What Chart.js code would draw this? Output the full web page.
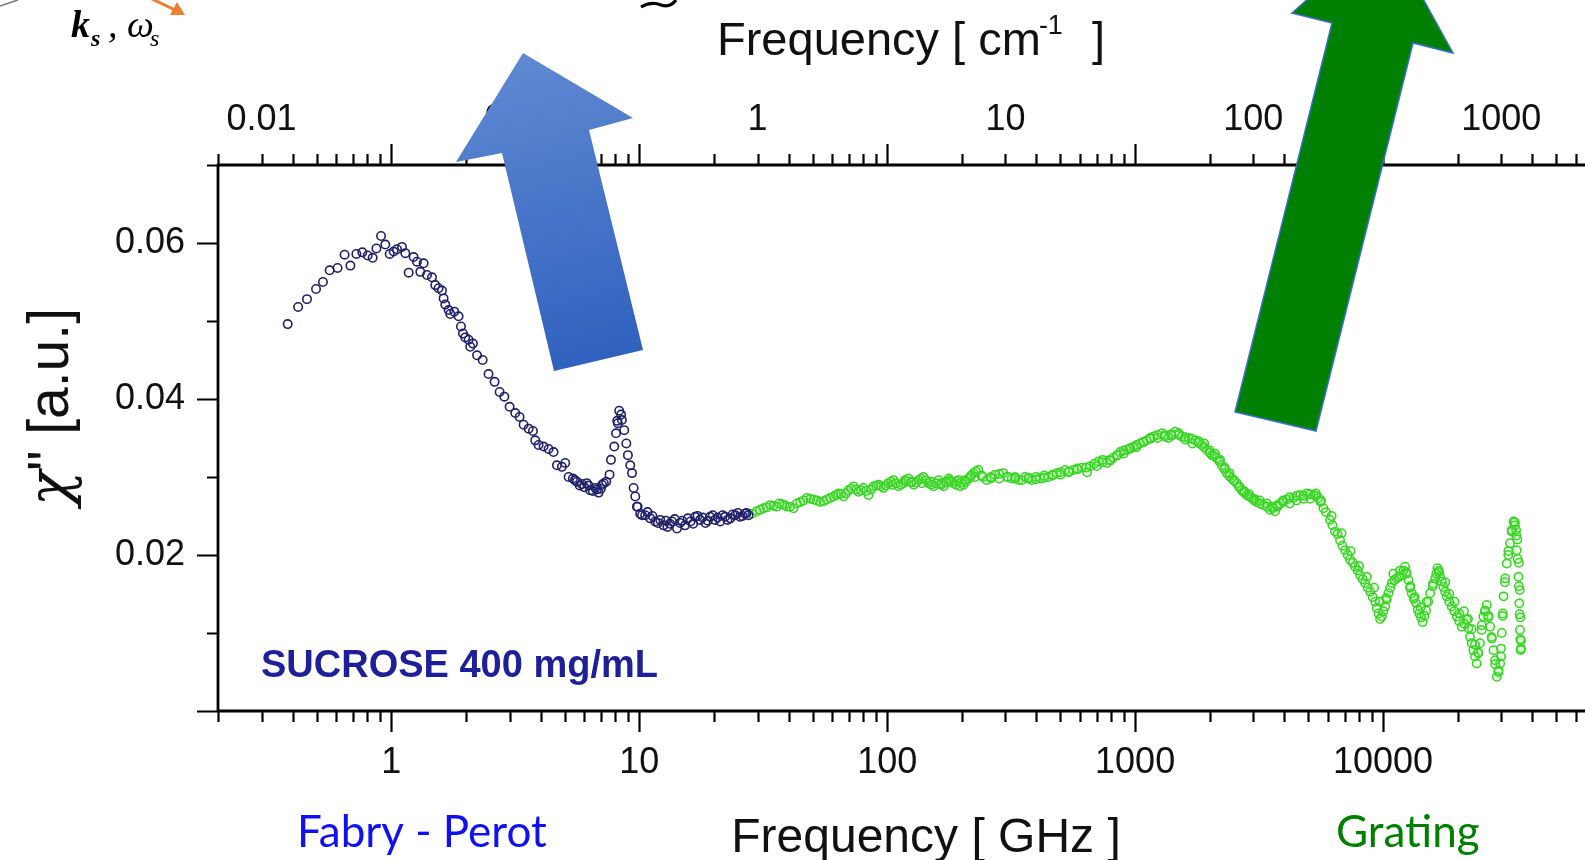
<!DOCTYPE html>
<html><head><meta charset="utf-8">
<script src="https://cdn.jsdelivr.net/npm/chart.js@4.4.0/dist/chart.umd.min.js"></script>
<style>
html,body{margin:0;padding:0;background:#fff;overflow:hidden;width:1585px;height:860px;}
#wrap{position:absolute;left:0;top:0;width:1700px;height:860px;}
canvas{display:block;}
</style></head><body>
<div id="wrap"><canvas id="c" width="1700" height="860"></canvas></div>
<script>
// ---- Fabry-Perot data (frequency in GHz, chi'' in a.u.) ----
const FP_FREQ_GHZ = [0.382,0.421,0.457,0.497,0.530,0.564,0.607,0.648,0.684,0.723,
 0.764,0.803,0.841,0.871,0.909,0.946,0.985,1.022,1.054,1.104,
 1.139,1.175,1.230,1.269,1.309,1.350,1.393,1.459,1.504,1.551,
 1.601,1.625,1.651,1.703,1.729,1.795,1.868,1.910,1.946,1.987,
 2.050,2.082,2.134,2.217,2.335,2.467,2.610,2.734,2.857,3.000,
 3.162,3.291,3.417,3.580,3.727,3.807,3.926,4.113,4.308,4.512,
 4.656,4.875,5.03,5.19,5.40,5.61,5.87,6.15,6.34,6.65,
 6.86,7.08,7.36,7.59,7.69,7.93,8.06,8.20,8.30,8.51,
 8.70,8.87,9.00,9.20,9.35,9.49,9.64,9.85,10.26,
 9.79,10.09,10.57,11.07,11.60,12.15,12.53,13.0,13.55,14.2,14.6,15.3,16.1,16.8,17.6,18.5,19.3,20.2,21.2,22.2,23.3,24.4,25.5,26.7,27.6,
 10.8,11.3,11.9,12.8,13.3,13.9,14.9,15.7,16.5,17.2,18.0,18.9,19.8,20.7,21.7,22.7,23.8,25.0,26.1,27.1,
 8.15,8.45,5.5,5.75,6.0,6.25,6.5,6.75,7.0,7.2];
const FP_CHI = [0.0496,0.0518,0.0528,0.0541,0.0550,0.0565,0.0568,0.0585,0.0571,0.0586,
 0.0588,0.0584,0.0581,0.0593,0.0609,0.0598,0.0586,0.0589,0.0592,0.0595,
 0.0587,0.0562,0.0582,0.0576,0.0563,0.0574,0.0559,0.0556,0.0546,0.0542,
 0.0539,0.0529,0.0521,0.0514,0.0509,0.0512,0.0506,0.0493,0.0484,0.0479,
 0.0476,0.0467,0.0471,0.0456,0.0450,0.0432,0.0422,0.0409,0.0403,0.0390,
 0.0382,0.0377,0.0367,0.0362,0.0359,0.0347,0.0341,0.0339,0.0336,0.0332,
 0.0315,0.0313,0.0318,0.0300,0.0298,0.0294,0.0291,0.0292,0.0283,0.0286,
 0.0280,0.0290,0.0294,0.0303,0.0322,0.0339,0.0356,0.0369,0.0385,0.0373,
 0.0360,0.0343,0.0328,0.0315,0.0305,0.0286,0.0275,0.0262,0.0251,
 0.0262,0.0253,0.0251,0.0247,0.0243,0.0245,0.0238,0.0236,0.0243,0.0234,0.0241,0.0238,0.0243,0.0249,0.0245,0.0241,0.0249,0.0245,0.0243,0.0249,0.0247,0.0251,0.0249,0.0253,0.0251,
 0.0255,0.0250,0.0241,0.0244,0.0240,0.0246,0.0244,0.0247,0.0240,0.0250,0.0248,0.0244,0.0251,0.0248,0.0251,0.0245,0.0252,0.0254,0.0250,0.0254,
 0.0372,0.0380,0.0296,0.0289,0.0287,0.0289,0.0282,0.0284,0.0285,0.0292];

// ---- Grating data (frequency in GHz, chi'' in a.u.) ----
const GR_FREQ_GHZ = [28.5,29.8,31.7,33.7,35.9,37.6,39.4,41.9,44.6,47.4,
 50.5,53.7,57.1,60.8,63.6,66.7,69.8,73.2,76.6,80.3,
 84.1,88.1,92.3,96.6,101,106,111,116,122,128,
 134,140,147,154,161,169,177,185,194,203,
 213,223,233,
 179,197,216,252,272,294,318,339,360,383,
 414,447,483,522,564,610,659,712,769,818,
 871,927,985,1047,1114,1185,1282,1362,1449,1542,
 1641,1745,1857,1945,2038,2135,2236,2342,2453,2569,
 2691,2818,2952,3092,3290,3500,3669,3843,4089,4350,
 4628,4925,5240,
 5488,5748,6111,6402,6708,7027,7362,7712,8080,8465,
 8868,9290,9580,9880,10190,10510,10840,11350,11890,12270,
 12650,13050,13590,14010,14450,14900,15480,16220,16570,16990,
 17510,18060,18920,19820,20760,21750,22420,23120,23860,24600,
 25380,26190,27040,27880,28770,29660,30120,30610,31550,32520,
 33580,34390,34590,35160,35450,35650,35880,
 6200,6800,7400,8000,8600,9200,9700,10300,11000,11700,
 12400,12900,13400,14200,15000,15900,16800,17800,18500,19400,
 20300,21200,22000,22800,23500,24200,25000,25800,26600,27400,
 28300,29200,29900,30400,31000,32000,33000,34000,34800,35300,
 35600,35800,36000,
 1900,2000,2100,2200,2300,2400,2500,2630,2750,2880,
 3020,3180,3400,3580,3750,3950,4200,4480,4780,5080,5360,5600,
 640,700,740,790,850,900,950,1010,1080,1150,
 1230,1320,1400,1500,1590,1700,1800,
 105,118,125,138,150,165,173,190,206,226,
 243,262,283,306,328,350,372,398,430,465,500,540,585,
 30.7,32.7,34.8,36.7,38.5,40.6,43.2,46.0,49.0,52.1,
 55.4,58.9,62.2,65.1,68.2,71.5,74.9,78.4,82.2,86.1,
 90.2,94.4,98.8,103.5,108.5,113.5,119,125,131,137,
 143.5,150.5,157.5,165,173,181,189.5,198.5,208,218,
 228,240,262,283,306,328,372,398,430,465,
 500,540,585,635,685,740,795,845,900,955,
 1015,1080,1150,1230,1320,1400,1500,1590,1690,1800,
 1900,2000,2085,2190,2290,2400,2510,2630,2750,2880,
 3020,3180,3400,3580,3750,3950,4200,4480,4780,5080,
 5360,5620,5880,6250,6550,6860,7200,7550,7900,8270,
 8670,9080,9430,9730,10030,10350,10680,11100,11600,12080,
 12450,12850,13300,13800,14230,14680,15200,15850,16400,16780,
 17250,17800,18480,19370,20280,21250,22080,22770,23490,24230,
 24990,25780,26610,27460,28320,29210,29890,30360,31080,32030,
 33050,34000,34480,34870,35300,35550,35760,35980];
const GR_CHI = [0.0253,0.0256,0.0260,0.0264,0.0262,0.0265,0.0262,0.0260,0.0268,0.0273,
 0.0271,0.0268,0.0271,0.0275,0.0279,0.0275,0.0283,0.0288,0.0281,0.0286,
 0.0277,0.0288,0.0290,0.0286,0.0292,0.0296,0.0288,0.0292,0.0298,0.0290,
 0.0296,0.0300,0.0292,0.0288,0.0296,0.0288,0.0298,0.0292,0.0296,0.0290,
 0.0298,0.0305,0.0309,
 0.0296,0.0288,0.0300,0.0296,0.0303,0.0305,0.0298,0.0296,0.0300,0.0296,
 0.0298,0.0300,0.0305,0.0309,0.0309,0.0312,0.0314,0.0320,0.0318,0.0325,
 0.0332,0.0335,0.0339,0.0343,0.0347,0.0352,0.0356,0.0350,0.0358,0.0352,
 0.0350,0.0347,0.0341,0.0335,0.0328,0.0324,0.0315,0.0305,0.0298,0.0292,
 0.0283,0.0277,0.0273,0.0268,0.0264,0.0258,0.0256,0.0266,0.0271,0.0273,
 0.0277,0.0279,0.0277,
 0.0273,0.0260,0.0245,0.0230,0.0219,0.0206,0.0194,0.0185,0.0174,0.0164,
 0.0153,0.0140,0.0125,0.0121,0.0134,0.0151,0.0164,0.0170,0.0174,0.0185,
 0.0168,0.0151,0.0138,0.0125,0.0114,0.0129,0.0151,0.0170,0.0183,0.0172,
 0.0159,0.0147,0.0134,0.0121,0.0108,0.0117,0.0095,0.0078,0.0061,0.0087,
 0.0121,0.0136,0.0108,0.0078,0.0044,0.0061,0.0100,0.0147,0.0189,0.0215,
 0.0243,0.0232,0.0206,0.0172,0.0138,0.0104,0.0078,
 0.0250,0.0228,0.0205,0.0186,0.0172,0.0158,0.0140,0.0145,0.0176,0.0180,
 0.0178,0.0160,0.0146,0.0133,0.0140,0.0163,0.0178,0.0165,0.0150,0.0140,
 0.0125,0.0128,0.0118,0.0105,0.0085,0.0075,0.0110,0.0128,0.0120,0.0095,
 0.0065,0.0052,0.0080,0.0125,0.0165,0.0200,0.0230,0.0238,0.0220,0.0190,
 0.0155,0.0120,0.0090,
 0.0343,0.0334,0.0330,0.0322,0.0312,0.0305,0.0296,0.0288,0.0282,0.0278,
 0.0272,0.0270,0.0266,0.0262,0.0262,0.0268,0.0266,0.0270,0.0272,0.0272,0.0279,0.0268,
 0.0306,0.0314,0.0322,0.0322,0.0328,0.0330,0.0336,0.0338,0.0345,0.0350,
 0.0350,0.0354,0.0353,0.0356,0.0348,0.0343,0.0346,
 0.0290,0.0296,0.0294,0.0292,0.0294,0.0292,0.0294,0.0294,0.0296,0.0300,
 0.0300,0.0298,0.0298,0.0300,0.0300,0.0296,0.0299,0.0300,0.0302,0.0303,0.0306,0.0306,0.0311,
 0.0258,0.0261,0.0263,0.0266,0.0264,0.0262,0.0266,0.0270,0.0272,0.0270,
 0.0269,0.0273,0.0277,0.0278,0.0279,0.0285,0.0284,0.0283,0.0282,0.0284,
 0.0289,0.0288,0.0289,0.0294,0.0292,0.0290,0.0295,0.0293,0.0293,0.0298,
 0.0296,0.0290,0.0292,0.0290,0.0293,0.0294,0.0290,0.0293,0.0294,0.0302,
 0.0307,0.0302,0.0300,0.0304,0.0300,0.0298,0.0298,0.0297,0.0299,0.0302,
 0.0303,0.0307,0.0310,0.0312,0.0317,0.0319,0.0321,0.0328,0.0334,0.0337,
 0.0341,0.0345,0.0349,0.0354,0.0352,0.0355,0.0354,0.0351,0.0349,0.0344,
 0.0338,0.0331,0.0327,0.0320,0.0310,0.0301,0.0295,0.0287,0.0280,0.0275,
 0.0270,0.0266,0.0262,0.0260,0.0264,0.0270,0.0274,0.0276,0.0276,0.0278,
 0.0276,0.0270,0.0255,0.0238,0.0227,0.0212,0.0200,0.0190,0.0180,0.0169,
 0.0158,0.0146,0.0132,0.0118,0.0128,0.0143,0.0158,0.0168,0.0172,0.0180,
 0.0176,0.0158,0.0144,0.0130,0.0120,0.0122,0.0140,0.0160,0.0176,0.0180,
 0.0166,0.0153,0.0140,0.0128,0.0115,0.0112,0.0106,0.0087,0.0070,0.0074,
 0.0104,0.0129,0.0122,0.0093,0.0060,0.0050,0.0070,0.0122,0.0170,0.0205,
 0.0232,0.0242,0.0225,0.0195,0.0160,0.0124,0.0092,0.0080];

// ---- axes ----
const GHZ_MIN = 0.2, GHZ_MAX = 100000;
const GHZ_TICKS = [1, 10, 100, 1000, 10000];
const GHZ_TICK_LABELS = ['1', '10', '100', '1000', '10000'];
const CM_TICKS = [0.01, 0.1, 1, 10, 100, 1000];
const CM_TICK_LABELS = ['0.01', '0.1', '1', '10', '100', '1000'];
const GHZ_PER_CM = 29.9792458;
const Y_MIN = 0, Y_MAX = 0.07;
const Y_TICKS = [0.02, 0.04, 0.06];
const Y_TICK_LABELS = ['0.02', '0.04', '0.06'];
const Y_MINOR = [0.00, 0.01, 0.02, 0.03, 0.04, 0.05, 0.06, 0.07];

const SANS = '"Liberation Sans", Arial, Helvetica, sans-serif';
const SERIF = '"Liberation Serif", "DejaVu Serif", serif';
const tickFont = {family: SANS, size: 36};

const decor = {
  id: 'decor',
  afterDraw(chart) {
    const ctx = chart.ctx;
    const {left, right, top, bottom} = chart.chartArea;
    const xs = chart.scales.x, ys = chart.scales.y;
    ctx.save();
    // axis lines
    ctx.strokeStyle = '#000';
    ctx.lineWidth = 2.8;
    ctx.beginPath();
    ctx.moveTo(left - 1, top); ctx.lineTo(right, top);
    ctx.moveTo(left - 1, bottom); ctx.lineTo(right, bottom);
    ctx.moveTo(left, top - 1); ctx.lineTo(left, bottom + 1);
    ctx.stroke();
    // log ticks on bottom and top (GHz decades)
    ctx.lineWidth = 2.2;
    ctx.beginPath();
    for (let e = -1; e <= 5; e++) {
      for (let k = 1; k <= 9; k++) {
        const v = k * Math.pow(10, e);
        if (v < GHZ_MIN * 0.999 || v > GHZ_MAX * 1.001) continue;
        const px = Math.round(xs.getPixelForValue(v)) + 0.5;
        const len = k === 1 ? 21 : 11;
        ctx.moveTo(px, bottom); ctx.lineTo(px, bottom + len);
        ctx.moveTo(px, top); ctx.lineTo(px, top - len);
      }
    }
    // y ticks
    Y_MINOR.forEach(v => {
      const py = Math.round(ys.getPixelForValue(v)) + 0.5;
      const major = Y_TICKS.some(t => Math.abs(t - v) < 1e-9) || v === 0;
      ctx.moveTo(left, py); ctx.lineTo(left - (major ? 21 : 11), py);
    });
    ctx.stroke();

    // axis titles
    ctx.fillStyle = '#111';
    ctx.textBaseline = 'alphabetic';
    ctx.font = '48px ' + SANS;
    ctx.textAlign = 'center';
    ctx.fillText('Frequency [ GHz ]', 926, 852);
    ctx.textAlign = 'left';
    ctx.font = '47px ' + SANS;
    const t1 = 'Frequency [ cm';
    ctx.fillText(t1, 717, 55);
    const w1 = ctx.measureText(t1).width;
    ctx.font = '27px ' + SANS;
    ctx.fillText('-1', 717 + w1 - 2, 34);
    ctx.font = '47px ' + SANS;
    ctx.fillText(']', 1092, 55);
    // y title: chi'' [a.u.]
    ctx.save();
    ctx.translate(52, 407);
    ctx.rotate(-Math.PI / 2);
    ctx.textBaseline = 'middle';
    ctx.textAlign = 'left';
    const chiFont = 'italic 58px "DejaVu Serif", "Liberation Serif", serif';
    ctx.font = chiFont;
    const wc = ctx.measureText('\u03C7').width;
    ctx.font = '57px ' + SANS;
    const wr = ctx.measureText('" [a.u.]').width;
    const x0 = -(wc + wr) / 2;
    ctx.font = chiFont;
    ctx.fillText('\u03C7', x0, 2);
    ctx.font = '57px ' + SANS;
    ctx.fillText('" [a.u.]', x0 + wc, 0);
    ctx.restore();

    // sample label
    ctx.font = 'bold 38px ' + SANS;
    ctx.fillStyle = '#1f1f99';
    ctx.textAlign = 'left';
    ctx.fillText('SUCROSE 400 mg/mL', 261, 677);

    // instrument labels
    ctx.font = '44px Lato, "Open Sans", sans-serif';
    ctx.fillStyle = '#1010f0';
    ctx.fillText('Fabry - Perot', 297, 847);
    ctx.fillStyle = '#008000';
    ctx.fillText('Grating', 1336, 847);

    // top-left fragment: k_s , omega_s
    ctx.fillStyle = '#000';
    ctx.font = 'italic bold 38px ' + SERIF;
    ctx.fillText('k', 71, 37);
    ctx.font = 'italic bold 24px ' + SERIF;
    ctx.fillText('s', 91, 46);
    ctx.font = 'italic 38px ' + SERIF;
    ctx.fillText(',', 108, 37);
    ctx.fillText('\u03C9', 127, 37);
    ctx.font = 'italic 24px ' + SERIF;
    ctx.fillText('s', 150, 46);
    // gray line
    ctx.strokeStyle = '#777'; ctx.lineWidth = 1.5;
    ctx.beginPath(); ctx.moveTo(0, 6); ctx.lineTo(18, 0); ctx.stroke();
    // orange arrow
    ctx.strokeStyle = '#ed7d31'; ctx.fillStyle = '#ed7d31'; ctx.lineWidth = 3;
    ctx.beginPath(); ctx.moveTo(150, -2); ctx.lineTo(175, 10); ctx.stroke();
    ctx.beginPath(); ctx.moveTo(185, 15); ctx.lineTo(170, 15); ctx.lineTo(177, 2); ctx.closePath(); ctx.fill();
    // Q fragment
    ctx.strokeStyle = '#000'; ctx.lineWidth = 3.2;
    ctx.beginPath(); ctx.moveTo(641, 7); ctx.quadraticCurveTo(651, 1, 661, 5); ctx.quadraticCurveTo(670, 8, 676, 0); ctx.stroke();

    // blue arrow
    const bp = [[523,53],[633,118],[589,130],[643,350],[554,371],[502,153],[456,162]];
    const g = ctx.createLinearGradient(523, 53, 598, 362);
    g.addColorStop(0, '#6089d2');
    g.addColorStop(1, '#2f61be');
    ctx.fillStyle = g;
    ctx.beginPath(); ctx.moveTo(bp[0][0], bp[0][1]);
    for (let i = 1; i < bp.length; i++) ctx.lineTo(bp[i][0], bp[i][1]);
    ctx.closePath(); ctx.fill();
    // green arrow
    const gp = [[1385,-70],[1453,53],[1413,43],[1316,431],[1235,412],[1332,23],[1292,13]];
    ctx.fillStyle = '#007f00';
    ctx.strokeStyle = '#3a6fd0'; ctx.lineWidth = 1.5;
    ctx.beginPath(); ctx.moveTo(gp[0][0], gp[0][1]);
    for (let i = 1; i < gp.length; i++) ctx.lineTo(gp[i][0], gp[i][1]);
    ctx.closePath(); ctx.fill(); ctx.stroke();
    ctx.restore();
  }
};

const fpPoints = FP_FREQ_GHZ.map((f, i) => ({x: f, y: FP_CHI[i]}));
const grPoints = GR_FREQ_GHZ.map((f, i) => ({x: f, y: GR_CHI[i]}));

new Chart(document.getElementById('c'), {
  type: 'scatter',
  data: {
    datasets: [
      {label: 'Fabry - Perot', data: fpPoints, pointRadius: 4.2, pointBorderWidth: 1.6,
       pointBorderColor: '#20206a', pointBackgroundColor: 'rgba(255,255,255,0)', pointHoverRadius: 4.2},
      {label: 'Grating', data: grPoints, pointRadius: 4.2, pointBorderWidth: 1.5,
       pointBorderColor: '#38d424', pointBackgroundColor: 'rgba(120,235,100,0.15)', pointHoverRadius: 4.2}
    ]
  },
  options: {
    responsive: false,
    animation: false,
    events: [],
    layout: {padding: {left: 0, right: 69, top: 0, bottom: 0}},
    plugins: {legend: {display: false}, tooltip: {enabled: false}, title: {display: false}},
    scales: {
      x: {
        type: 'logarithmic', position: 'bottom', min: GHZ_MIN, max: GHZ_MAX,
        grid: {display: false, drawTicks: false}, border: {display: false},
        afterFit(s) { s.height = 149; },
        afterBuildTicks(s) { s.ticks = GHZ_TICKS.map(v => ({value: v})); },
        ticks: {autoSkip: false, maxRotation: 0, minRotation: 0, padding: 30, color: '#111', font: tickFont,
          callback: (v, i) => GHZ_TICK_LABELS[i]}
      },
      x2: {
        type: 'logarithmic', axis: 'x', position: 'top', min: GHZ_MIN, max: GHZ_MAX,
        grid: {display: false, drawTicks: false}, border: {display: false},
        afterFit(s) { s.height = 165; },
        afterBuildTicks(s) { s.ticks = CM_TICKS.map(c => ({value: c * GHZ_PER_CM})); },
        ticks: {autoSkip: false, maxRotation: 0, minRotation: 0, padding: 23, color: '#111', font: tickFont,
          callback: (v, i) => CM_TICK_LABELS[i]}
      },
      y: {
        type: 'linear', position: 'left', min: Y_MIN, max: Y_MAX,
        grid: {display: false, drawTicks: false}, border: {display: false},
        afterFit(s) { s.width = 218; },
        afterBuildTicks(s) { s.ticks = Y_TICKS.map(v => ({value: v})); },
        ticks: {padding: 33, color: '#111', font: tickFont, callback: (v, i) => Y_TICK_LABELS[i]}
      }
    }
  },
  plugins: [decor]
});
</script>
</body></html>
